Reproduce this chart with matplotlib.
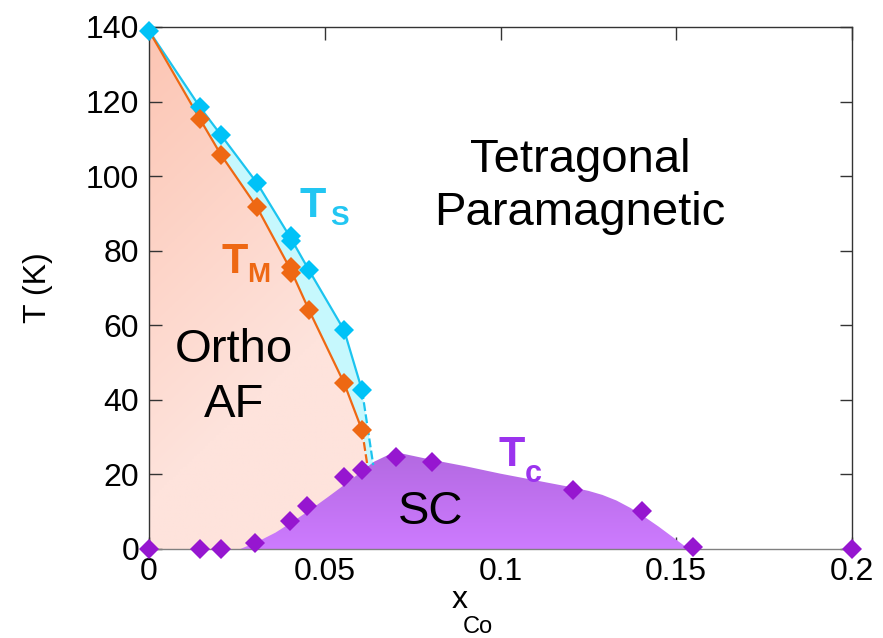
import numpy as np
import matplotlib
matplotlib.use("Agg")
from matplotlib import pyplot as plt
from matplotlib.colors import LinearSegmentedColormap
from matplotlib.patches import Polygon

plt.rcParams['font.family'] = ['Liberation Sans', 'DejaVu Sans']

# structural transition T_S (K) vs Co content
ts_x = [0.0, 0.0145, 0.0205, 0.0307, 0.0404, 0.0404, 0.0455, 0.0555, 0.0606]
ts_T = [139.0, 118.5, 111.0, 98.2, 84.0, 82.5, 74.8, 58.7, 42.6]
# magnetic transition T_M
tm_x = [0.0145, 0.0205, 0.0307, 0.0404, 0.0404, 0.0455, 0.0555, 0.0606]
tm_T = [115.3, 105.7, 91.7, 75.5, 74.0, 64.1, 44.5, 31.9]
# superconducting T_c
tc_x = [0.0, 0.0145, 0.0205, 0.0302, 0.0401, 0.045, 0.0555, 0.0606, 0.0703,
        0.0805, 0.1206, 0.1403, 0.1548, 0.2]
tc_T = [0.0, 0.0, 0.0, 1.5, 7.6, 11.6, 19.2, 21.3, 24.6, 23.2, 15.9, 10.3, 0.6, 0.0]

# extrapolated ends of the T_S / T_M lines down to the dome
ts_tail_x = [0.0606, 0.0638]
ts_tail_T = [42.6, 22.5]
tm_tail_x = [0.0606, 0.0622]
tm_tail_T = [31.9, 22.0]

# outline of the superconducting dome
sc_x = [0.026, 0.031, 0.036, 0.041, 0.046, 0.051, 0.056, 0.0605, 0.064, 0.068,
        0.072, 0.08, 0.09, 0.1, 0.11, 0.12, 0.125, 0.129, 0.133, 0.137, 0.141,
        0.145, 0.149, 0.1535]
sc_T = [0.0, 2.0, 4.4, 7.4, 10.6, 14.0, 17.5, 20.8, 23.4, 25.2,
        25.6, 24.0, 22.2, 20.2, 18.4, 16.6, 15.6, 14.5, 13.0, 11.0, 8.6,
        6.0, 3.2, 0.0]

c_ts = '#00c2f7'
c_ts_line = '#1cc4ef'
c_tm = '#ee6813'
c_tc = '#9616d0'


def mean_curve(xs, ts):
    # collapse repeated x values into one vertex for the guide lines
    ux = sorted(set(xs))
    uy = [np.mean([t for x, t in zip(xs, ts) if x == u]) for u in ux]
    return np.array(ux), np.array(uy)


fig = plt.figure(figsize=(8.83, 6.38), dpi=100)
ax = fig.add_axes([149 / 883, 1 - 549 / 638, (852 - 149) / 883, (549 - 27) / 638])
ax.set_xlim(0, 0.2)
ax.set_ylim(0, 140)

tsx, tsy = mean_curve(ts_x, ts_T)
tmx, tmy = mean_curve(tm_x, tm_T)
tmx_full = np.concatenate([[0.0], tmx])
tmy_full = np.concatenate([[ts_T[0]], tmy])

# ortho AF region, darker towards the top-left corner
af_poly = np.column_stack([
    np.concatenate([[0.0], tmx_full, [tm_tail_x[1], tm_tail_x[1]]]),
    np.concatenate([[0.0], tmy_full, [tm_tail_T[1], 0.0]]),
])
af_patch = Polygon(af_poly, closed=True, facecolor='none', edgecolor='none')
ax.add_patch(af_patch)
gx, gy = np.meshgrid(np.linspace(0, 1, 200), np.linspace(0, 1, 200))
grad = np.clip(1.1 * (1 - gy) + 0.5 * gx, 0, 1)
af_cmap = LinearSegmentedColormap.from_list('af', ['#fcc5b3', '#fee3dc'])
im = ax.imshow(grad, extent=[0, 0.07, 0, 140], cmap=af_cmap, aspect='auto',
               origin='lower', zorder=1, interpolation='bilinear')
im.set_clip_path(af_patch)

# orthorhombic paramagnetic sliver between T_S and T_M
band_x = np.concatenate([tsx, [ts_tail_x[1]], [tm_tail_x[1]], tmx[::-1], [0.0]])
band_T = np.concatenate([tsy, [ts_tail_T[1]], [tm_tail_T[1]], tmy[::-1], [ts_T[0]]])
ax.fill(band_x, band_T, color='#c6f8fd', lw=0, zorder=1.5)

# superconducting dome, darker at the top
sc_patch = Polygon(np.column_stack([sc_x, sc_T]), closed=True,
                   facecolor='none', edgecolor='none')
ax.add_patch(sc_patch)
sc_cmap = LinearSegmentedColormap.from_list('sc', ['#b268e0', '#cd7bff'])
sg = (1 - np.linspace(0, 1, 200))[:, None] * np.ones((1, 10))
im2 = ax.imshow(sg, extent=[0.02, 0.16, 0, 27], cmap=sc_cmap, aspect='auto',
                origin='lower', zorder=2, interpolation='bilinear')
im2.set_clip_path(sc_patch)

# guide lines
ax.plot(tsx, tsy, color=c_ts_line, lw=1.6, zorder=3)
ax.plot(ts_tail_x, ts_tail_T, color=c_ts_line, lw=1.6, ls=(0, (4, 1.5)), zorder=3)
ax.plot(tmx_full, tmy_full, color=c_tm, lw=1.6, zorder=3)
ax.plot(tm_tail_x, tm_tail_T, color=c_tm, lw=1.6, ls=(0, (4, 1.5)), zorder=3)

# data points
ax.plot(ts_x, ts_T, 'D', color=c_ts, ms=10, mew=0, clip_on=False, zorder=5)
ax.plot(tm_x, tm_T, 'D', color=c_tm, ms=10, mew=0, clip_on=False, zorder=5)
ax.plot(tc_x, tc_T, 'D', color=c_tc, ms=10, mew=0, clip_on=False, zorder=5)

# axes styling
for side in ['left', 'right', 'top']:
    ax.spines[side].set_color('#333333')
ax.spines['bottom'].set_color('#808080')
for sp in ax.spines.values():
    sp.set_linewidth(1.0)
    sp.set_zorder(4)
ax.set_xticks([0, 0.05, 0.1, 0.15, 0.2])
ax.set_xticklabels(['0', '0.05', '0.1', '0.15', '0.2'])
ax.set_yticks(range(0, 141, 20))
ax.tick_params(direction='in', length=9, width=1.0, color='#333333',
               labelsize=23, top=True, right=True, pad=6)
ax.tick_params(axis='y', pad=7)

ax.set_ylabel('T (K)', fontsize=23, labelpad=24)
fig.text(460 / 883, 1 - 600 / 638, 'x', fontsize=23, ha='center', va='center')
fig.text(478 / 883, 1 - 627 / 638, 'Co', fontsize=17, ha='center', va='center')

# phase labels
big = 34
ax.text(0.1226, 104.3, 'Tetragonal', fontsize=big, ha='center', va='center', zorder=6)
ax.text(0.1226, 90.1, 'Paramagnetic', fontsize=big, ha='center', va='center', zorder=6)
ax.text(0.0242, 53.4, 'Ortho', fontsize=big, ha='center', va='center', zorder=6)
ax.text(0.0242, 38.6, 'AF', fontsize=big, ha='center', va='center', zorder=6)
ax.text(0.0802, 9.9, 'SC', fontsize=big, ha='center', va='center', zorder=6)

ax.text(0.0467, 92.0, 'T', fontsize=31, fontweight='bold', color='#22c6f2',
        ha='center', va='center', zorder=6)
ax.text(0.0542, 88.8, 'S', fontsize=20, fontweight='bold', color='#22c6f2',
        ha='center', va='center', zorder=6)
ax.text(0.0245, 77.0, 'T', fontsize=31, fontweight='bold', color=c_tm,
        ha='center', va='center', zorder=6)
ax.text(0.0312, 73.5, 'M', fontsize=20, fontweight='bold', color=c_tm,
        ha='center', va='center', zorder=6)
ax.text(0.1033, 25.2, 'T', fontsize=31, fontweight='bold', color='#9b33ee',
        ha='center', va='center', zorder=6)
ax.text(0.1093, 20.0, 'c', fontsize=22, fontweight='bold', color='#9b33ee',
        ha='center', va='center', zorder=6)

fig.savefig('out.png', dpi=100)
